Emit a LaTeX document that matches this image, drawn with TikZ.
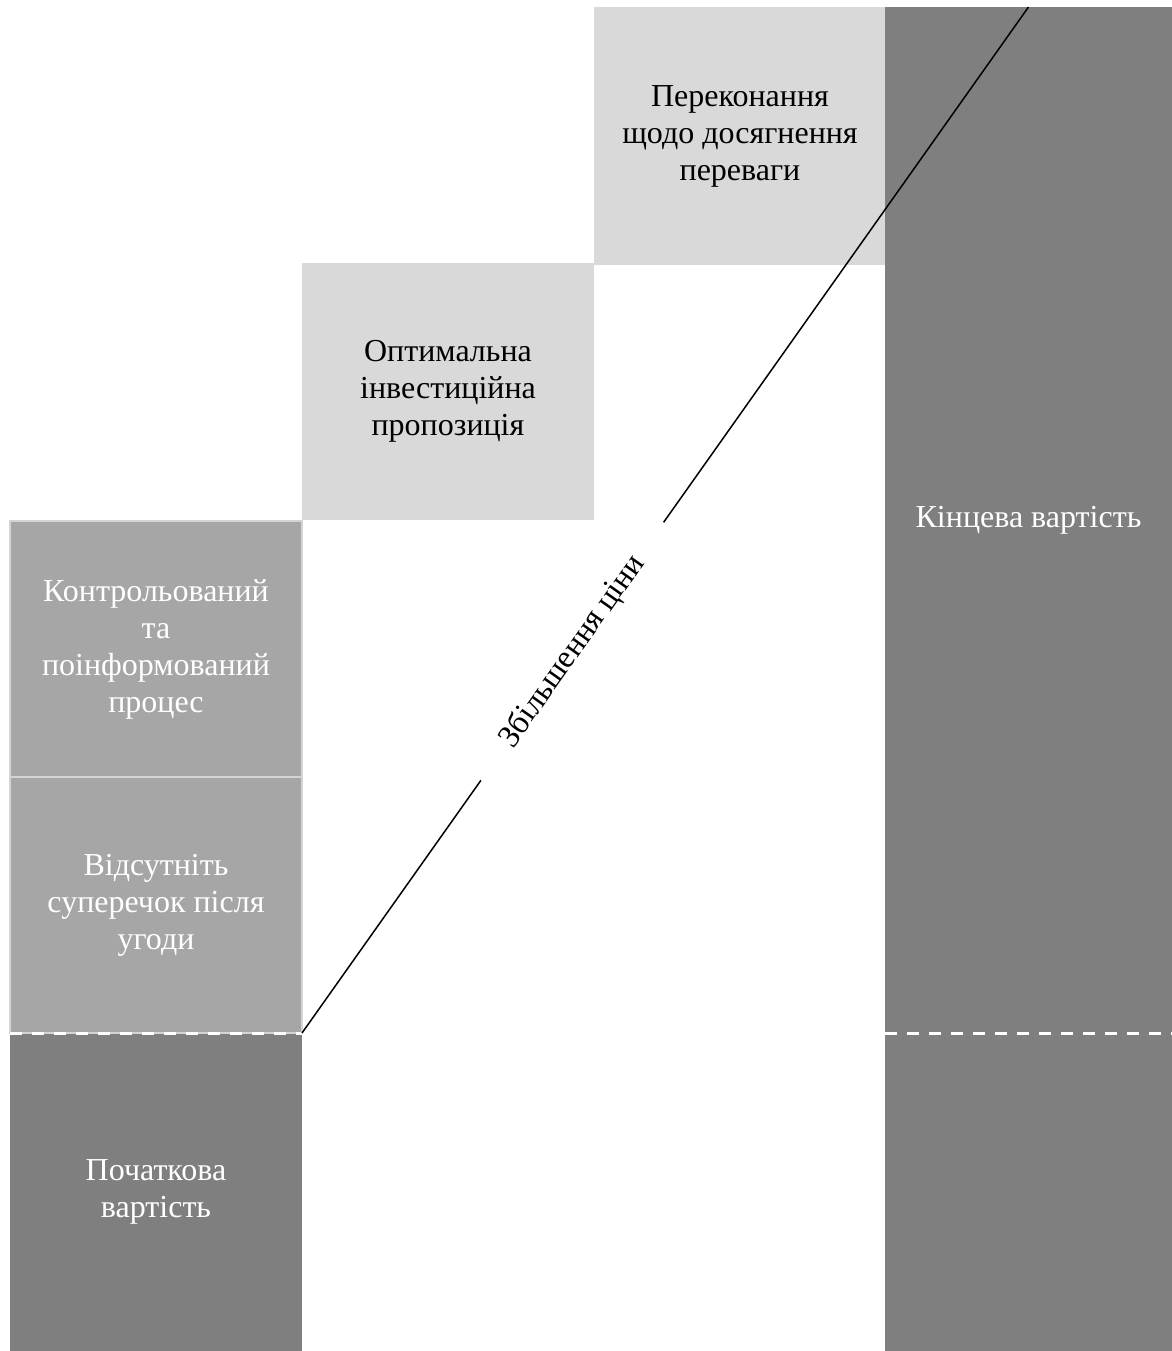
\documentclass[tikz,border=0pt]{standalone}
\usepackage{fontspec}
\setmainfont{Liberation Serif}[Ligatures=TeX]
\usetikzlibrary{positioning}
\usepackage{xcolor}
\definecolor{grDark} {RGB}{127, 127, 127}
\definecolor{grMid}  {RGB}{166, 166, 166}
\definecolor{grLight}{RGB}{217, 217, 217}
\definecolor{grEdge} {RGB}{212, 212, 212}

\begin{document}
\begin{tikzpicture}[x=0.5pt, y=-0.5pt, font=\rmfamily\fontsize{16}{18.5}\selectfont,
  block/.style={rectangle, anchor=north west, align=center, inner sep=0pt,
    outer sep=0pt, minimum width=146pt},
  darkblock/.style={block, fill=grDark, text=white},
  midblock/.style={block, fill=grMid, draw=grEdge, line width=1pt, text=white,
    minimum height=128pt},
  lightblock/.style={block, fill=grLight, text=black, minimum height=129pt},
  valueline/.style={white, line width=1.5pt, dash pattern=on 6pt off 5pt},
  priceline/.style={black, line width=0.75pt}]
  \useasboundingbox (0,0) rectangle (1172,1351);

  % ---- left column: start value and the two steps above it ----
  \node[darkblock, minimum height=159pt] (init) at (10,1033) {Початкова\\вартість};
  \node[midblock] (nodisp) [above=0pt of init] {Відсутніть\\суперечок після\\угоди};
  \node[midblock] (ctrl) [above=0pt of nodisp]
    {Контрольований\\та\\поінформований\\процес};

  % ---- stair steps ----
  \node[lightblock, anchor=south west, minimum height=128.5pt] (optim) at (302,520)
    {Оптимальна\\інвестиційна\\пропозиція};
  \node[lightblock, anchor=south west] (belief) at (optim.east |- 0,265)
    {Переконання\\щодо досягнення\\переваги};

  % ---- right column: final value ----
  \node[darkblock, minimum width=143.5pt, minimum height=672pt] (final) at (885,7) {};
  \node[text=white] (finallbl) at (final.north |- 0,520) {Кінцева вартість};

  % ---- dashed level of the start value ----
  \draw[valueline] (init.north west) -- (init.north east);
  \draw[valueline] (final.west |- init.north) -- (final.east |- init.north);

  % ---- price rise ----
  \draw[priceline] (init.north east) -- (final.north)
    node[pos=0.372, sloped, fill=white, inner xsep=22pt] (rise) {Збільшення ціни};
\end{tikzpicture}
\end{document}
